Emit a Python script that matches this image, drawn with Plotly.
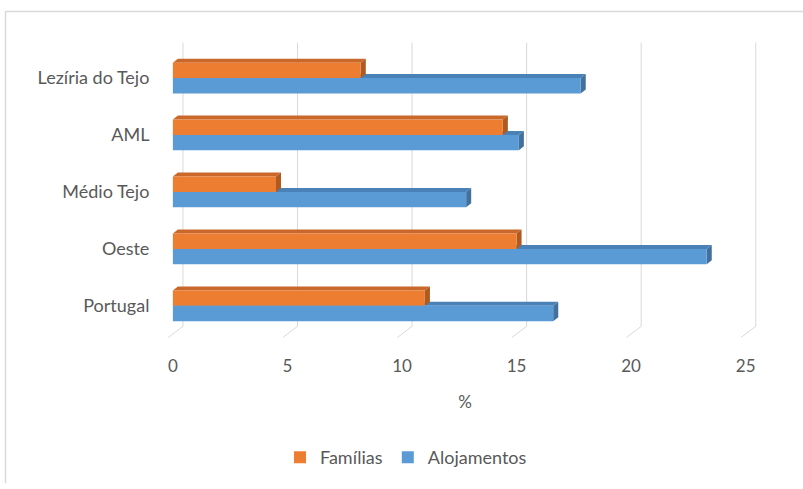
"""Excel-style 3D clustered bar chart: Famílias vs Alojamentos (%)."""
import plotly.graph_objects as go

W, H = 803, 489
L, R, T, B = 166, 39, 40.5, 145.3

regioes = ["Portugal", "Oeste", "Médio Tejo", "AML", "Lezíria do Tejo"]
familias = [11.0, 15.0, 4.5, 14.4, 8.2]
alojamentos = [16.6, 23.3, 12.8, 15.1, 17.8]
x_ticks = [0, 5, 10, 15, 20, 25]

ORANGE, ORANGE_TOP, ORANGE_SIDE = "#ED7D31", "#C9682A", "#AE5A21"
BLUE, BLUE_TOP, BLUE_SIDE = "#5B9BD5", "#4A82B8", "#41719C"
TXT = "#595959"
FONT = "Lato"

BW = 0.27           # bar thickness (category units)
DX, DY = 0.22, 0.07  # fake 3D depth
GX = 0.44            # back-wall grid offset

fig = go.Figure()
fig.add_trace(go.Bar(
    y=list(range(len(regioes))), x=familias, orientation="h", name="Famílias",
    offset=0, width=BW, marker=dict(color=ORANGE, line=dict(width=0)),
    hoverinfo="x+name",
))
fig.add_trace(go.Bar(
    y=list(range(len(regioes))), x=alojamentos, orientation="h", name="Alojamentos",
    offset=-BW, width=BW, marker=dict(color=BLUE, line=dict(width=0)),
    hoverinfo="x+name",
))

shapes = []
# gridlines on back wall + floor diagonals
for t in x_ticks:
    shapes.append(dict(type="line", xref="x", yref="y", x0=t + GX, x1=t + GX,
                       y0=-0.36, y1=4.62, line=dict(color="#D9D9D9", width=1), layer="below"))
    shapes.append(dict(type="line", xref="x", yref="y", x0=t + GX, x1=t - 0.2,
                       y0=-0.36, y1=-0.555, line=dict(color="#D9D9D9", width=1), layer="below"))


def faces(vals, y_lo, top_col, side_col):
    out = []
    for i, v in enumerate(vals):
        y0, y1 = i + y_lo, i + y_lo + BW
        top = f"M 0 {y1} L {v} {y1} L {v + DX} {y1 + DY} L {DX} {y1 + DY} Z"
        side = f"M {v} {y0} L {v} {y1} L {v + DX} {y1 + DY} L {v + DX} {y0 + DY} Z"
        out.append(dict(type="path", xref="x", yref="y", path=top, fillcolor=top_col,
                        line=dict(width=0), layer="below"))
        out.append(dict(type="path", xref="x", yref="y", path=side, fillcolor=side_col,
                        line=dict(width=0), layer="below"))
    return out


shapes += faces(alojamentos, -BW, BLUE_TOP, BLUE_SIDE)
shapes += faces(familias, 0, ORANGE_TOP, ORANGE_SIDE)

# chart-area border (left and top only visible)
pw, ph = W - L - R, H - T - B
px = lambda x: (x - L) / pw
py = lambda y: 1 - (y - T) / ph
shapes.append(dict(type="line", xref="paper", yref="paper", x0=px(5.5), x1=px(5.5),
                   y0=py(10), y1=py(H), line=dict(color="#D9D9D9", width=1.5)))
shapes.append(dict(type="line", xref="paper", yref="paper", x0=px(5), x1=px(W),
                   y0=py(10.5), y1=py(10.5), line=dict(color="#D9D9D9", width=1.5)))

fig.update_layout(
    width=W, height=H,
    margin=dict(l=L, r=R, t=T, b=B),
    paper_bgcolor="white", plot_bgcolor="white",
    font=dict(family=FONT, size=17, color=TXT),
    barmode="overlay",
    showlegend=True,
    legend=dict(orientation="h", x=px(406), xanchor="center", y=py(463), yanchor="middle",
                font=dict(size=18, color=TXT), traceorder="normal", itemwidth=30),
    xaxis=dict(range=[-0.3, 25.8], tickvals=x_ticks, showgrid=False, zeroline=False,
               showline=False, ticks="outside", ticklen=11, tickcolor="rgba(0,0,0,0)",
               tickfont=dict(size=17),
               title=dict(text="%", standoff=20, font=dict(size=17, color=TXT))),
    yaxis=dict(range=[-0.6, 4.65], tickvals=list(range(len(regioes))), ticktext=regioes,
               showgrid=False, zeroline=False, showline=False, ticks="outside", ticklen=12,
               tickcolor="rgba(0,0,0,0)", tickfont=dict(size=18)),
    shapes=shapes,
)

fig.write_html("out.html", config=dict(displayModeBar=False),
               post_script="document.body.style.margin='0px';")
